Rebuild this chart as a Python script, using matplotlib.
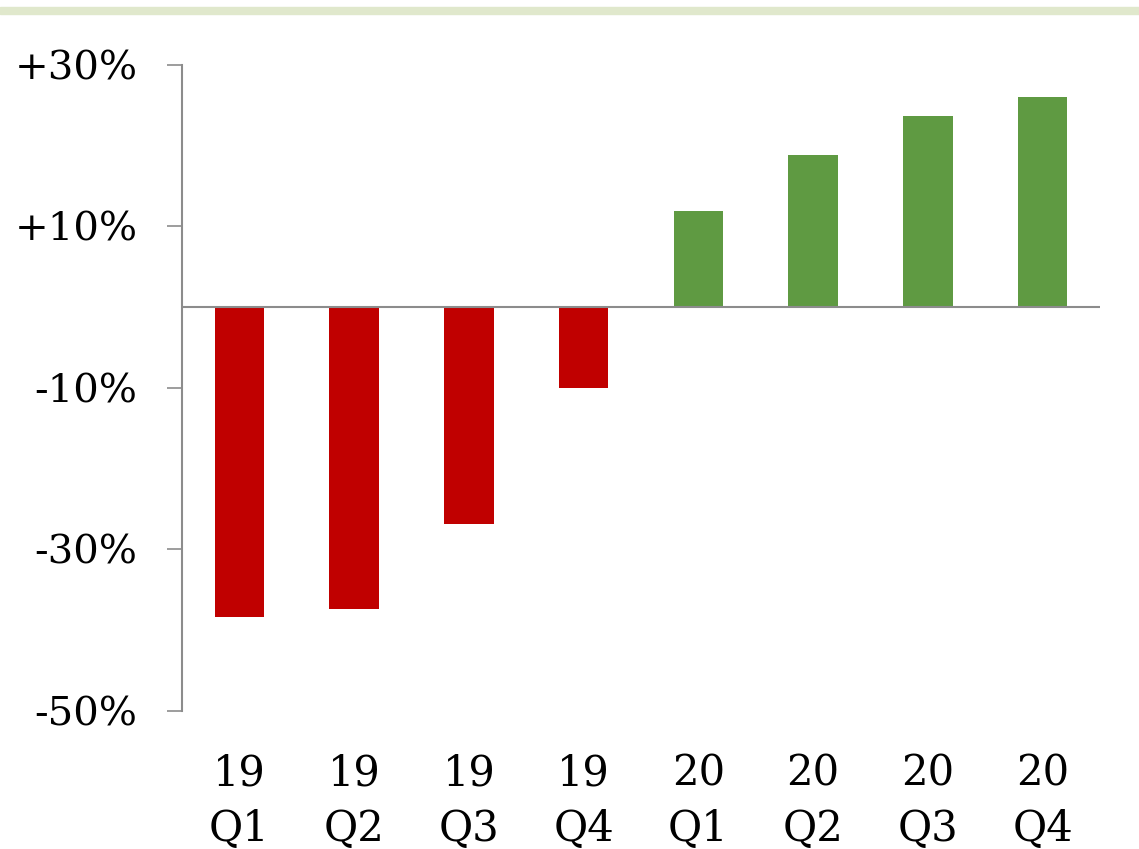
import matplotlib
matplotlib.use("Agg")
import matplotlib.pyplot as plt
import numpy as np

# quarterly change, in percent
quarters = ["19\nQ1", "19\nQ2", "19\nQ3", "19\nQ4", "20\nQ1", "20\nQ2", "20\nQ3", "20\nQ4"]
change = [-38.4, -37.4, -26.9, -10.0, 11.9, 18.8, 23.7, 26.0]
ytick_vals = [30, 10, -10, -30, -50]
ytick_labels = ["+30%", "+10%", "-10%", "-30%", "-50%"]

RED = "#c00000"
GREEN = "#5f9a42"
AXIS = "#8c8c8c"

plt.rcParams["font.family"] = ["DejaVu Serif"]

W, H = 1139, 849
fig = plt.figure(figsize=(W / 100, H / 100), dpi=100)

# thin light-green band across the top
fig.patches.append(plt.Rectangle((0, 1 - 14 / H), 1, 7 / H, transform=fig.transFigure,
                                 color="#e0e8cc", zorder=0))

ax = fig.add_axes([182 / W, 1 - 710.7 / H, (1100 - 182) / W, (710.7 - 65) / H])

x = np.arange(len(quarters))
colors = [RED if v < 0 else GREEN for v in change]
ax.bar(x, change, width=0.43, color=colors, zorder=2)
ax.axhline(0, color=AXIS, lw=1.5, zorder=3)

ax.set_xlim(-0.5, len(quarters) - 0.5)
ax.set_ylim(-50, 30)
ax.set_yticks(ytick_vals, ytick_labels)
ax.set_xticks(x, quarters)

for side in ["top", "right", "bottom"]:
    ax.spines[side].set_visible(False)
ax.spines["left"].set_color(AXIS)
ax.spines["left"].set_linewidth(1.5)

ax.tick_params(axis="y", length=11, width=1.2, color=AXIS, pad=21, labelsize=29)
ax.tick_params(axis="x", length=0, pad=30, labelsize=30)
for lbl in ax.get_xticklabels():
    lbl.set_linespacing(1.4)

fig.savefig("out.png", dpi=100)
